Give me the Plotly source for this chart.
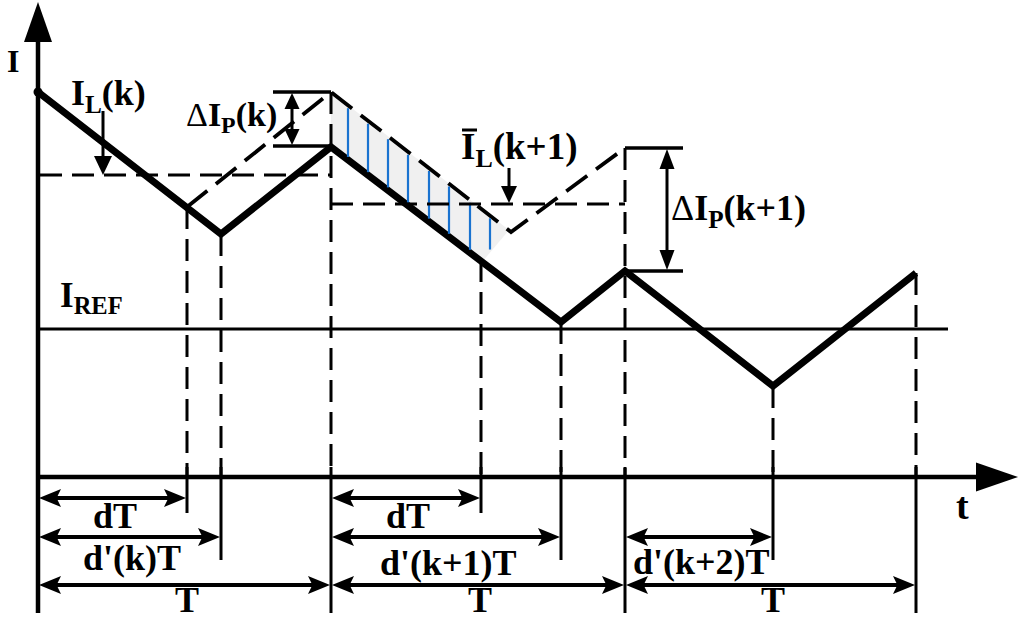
import plotly.graph_objects as go

W, H = 1024, 620

# ---- data (diagram coordinates: t to the right, I downward in image units) ----
origin_t = 38
t_axis_level = 477
i_axis_tip = 2
t_axis_tip = 1018

waveform_t = [38, 221, 331, 561, 625, 773, 916]
waveform_i = [92, 234, 147, 322, 271, 386, 273]

predicted_t = [187, 331, 511, 625]
predicted_i = [207, 92, 232, 148]

i_ref_level = 329
i_ref_end = 948
avg_k_level = 175
avg_k_span = [40, 331]
avg_k1_level = 204
avg_k1_span = [331, 625]

marker_t = [187, 221, 331, 481, 561, 625, 773, 916]
marker_top = [207, 234, 92, 260, 322, 148, 386, 273]
marker_bottom = [513, 560, 613, 513, 560, 613, 560, 613]

hatch_t = [348, 368, 388, 408, 429, 449, 470, 490]
hatch_poly_t = [331, 509, 482, 331]
hatch_poly_i = [92, 230, 262, 147]

dim_labels = ["dT", "d'(k)T", "T", "dT", "d'(k+1)T", "T", "d'(k+2)T", "T"]
dim_start = [38, 38, 38, 331, 331, 331, 625, 625]
dim_end = [187, 221, 331, 481, 561, 625, 773, 916]
dim_level = [498, 537, 585, 498, 537, 585, 537, 585]
dim_label_level = [516, 558, 600, 516, 563, 600, 562, 600]

delta_k = dict(top=92, bottom=146, x0=273, x1=331, arrow=292)
delta_k1 = dict(top=148, bottom=271, x0=625, x1=683, arrow=667)

FONT = "Liberation Serif"
shapes = []
annotations = []


def line(x0, y0, x1, y1, w=3.5, dash="solid", color="black"):
    shapes.append(dict(type="line", x0=x0, y0=y0, x1=x1, y1=y1, xref="x", yref="y",
                       line=dict(color=color, width=w, dash=dash)))


def head(tx, ty, ux, uy, L=22, Wd=18, notch=0.0):
    n = (ux * ux + uy * uy) ** 0.5
    ux, uy = ux / n, uy / n
    px, py = -uy, ux
    bx, by = tx - L * ux, ty - L * uy
    b1 = (bx + Wd / 2 * px, by + Wd / 2 * py)
    b2 = (bx - Wd / 2 * px, by - Wd / 2 * py)
    nt = (tx - L * (1 - notch) * ux, ty - L * (1 - notch) * uy)
    path = f"M{tx},{ty} L{b1[0]},{b1[1]} L{nt[0]},{nt[1]} L{b2[0]},{b2[1]} Z"
    shapes.append(dict(type="path", path=path, xref="x", yref="y",
                       fillcolor="black", line=dict(width=0)))


def text(x, y, s, size=30, xanchor="center"):
    annotations.append(dict(x=x, y=y, xref="x", yref="y", text=s, showarrow=False,
                            xanchor=xanchor, yanchor="middle",
                            font=dict(family=FONT, size=size, color="black")))


DASH = "22px,10px"

# hatched region (grey fill + blue lines)
path = "M" + " L".join(f"{a},{b}" for a, b in zip(hatch_poly_t, hatch_poly_i)) + " Z"
shapes.append(dict(type="path", path=path, xref="x", yref="y", fillcolor="#f0f0f0",
                   line=dict(width=0), layer="below"))


def interp(x, xa, ya, xb, yb):
    return ya + (x - xa) * (yb - ya) / (xb - xa)


for hx in hatch_t:
    top = interp(hx, hatch_poly_t[0], hatch_poly_i[0], hatch_poly_t[1], hatch_poly_i[1]) + 3
    bot = min(interp(hx, hatch_poly_t[3], hatch_poly_i[3], hatch_poly_t[2], hatch_poly_i[2]),
              interp(hx, hatch_poly_t[1], hatch_poly_i[1], hatch_poly_t[2], hatch_poly_i[2])) - 3
    line(hx, top, hx, bot, w=2.2, color="#1a73d0")

# axes
line(origin_t, 613, origin_t, i_axis_tip + 30, w=4.5)
head(origin_t, i_axis_tip, 0, -1, L=40, Wd=28)
line(origin_t, t_axis_level, t_axis_tip - 30, t_axis_level, w=4.5)
head(t_axis_tip, t_axis_level, 1, 0, L=42, Wd=29)

# I_REF
line(origin_t, i_ref_level, i_ref_end, i_ref_level, w=3)

# average dashed lines
line(avg_k_span[0], avg_k_level, avg_k_span[1], avg_k_level, dash=DASH, w=3)
line(avg_k1_span[0], avg_k1_level, avg_k1_span[1], avg_k1_level, dash=DASH, w=3)

# marker verticals
for mt, mtop, mbot in zip(marker_t, marker_top, marker_bottom):
    line(mt, mtop, mt, t_axis_level, dash=DASH, w=3)
    line(mt, 467, mt, mbot, w=3)

# delta brackets
for d in (delta_k, delta_k1):
    line(d["x0"], d["top"], d["x1"], d["top"], w=3.5)
    line(d["x0"], d["bottom"], d["x1"], d["bottom"], w=3.5)
    L = 16 if d is delta_k else 20
    line(d["arrow"], d["top"] + L, d["arrow"], d["bottom"] - L, w=3)
    head(d["arrow"], d["top"] + 1, 0, -1, L=L, Wd=15)
    head(d["arrow"], d["bottom"] - 1, 0, 1, L=L, Wd=15)

# small label arrows
line(103, 111, 103, 158, w=3)
head(103, 175, 0, 1, L=19, Wd=18)
line(509, 168, 509, 188, w=3)
head(509, 203, 0, 1, L=17, Wd=16)

# dimension arrows
for lab, a, b, yl, ly in zip(dim_labels, dim_start, dim_end, dim_level, dim_label_level):
    line(a + 15, yl, b - 15, yl, w=4)
    head(a + 1, yl, -1, 0, L=22, Wd=18, notch=0.2)
    head(b - 1, yl, 1, 0, L=22, Wd=18, notch=0.2)
    text((a + b) / 2 + 2, ly, f"<b>{lab}</b>", size=36)

# Ī overline
line(462, 130, 477, 130, w=3)

# labels
text(13, 61, "<b>I</b>", size=32)
text(962, 506, "<b>t</b>", size=38)
text(69, 95, "<b>I<sub>L</sub>(k)</b>", size=36, xanchor="left")
text(184, 117, "Δ<b>I<sub>P</sub>(k)</b>", size=34, xanchor="left")
text(459, 149, "<b>I<sub>L</sub>(k+1)</b>", size=37, xanchor="left")
text(669, 210, "Δ<b>I<sub>P</sub>(k+1)</b>", size=36, xanchor="left")
text(58, 297, "<b>I<sub>REF</sub></b>", size=35, xanchor="left")

fig = go.Figure()
fig.add_trace(go.Scatter(x=predicted_t, y=predicted_i, mode="lines",
                         line=dict(color="black", width=3.8, dash="26px,11px"), hoverinfo="skip"))
fig.add_trace(go.Scatter(x=waveform_t, y=waveform_i, mode="lines",
                         line=dict(color="black", width=7), hoverinfo="skip"))
fig.add_trace(go.Scatter(x=[waveform_t[0]], y=[waveform_i[0]], mode="markers",
                         marker=dict(color="black", size=9), hoverinfo="skip"))

fig.update_layout(
    width=W, height=H, margin=dict(l=0, r=0, t=0, b=0),
    paper_bgcolor="white", plot_bgcolor="white", showlegend=False,
    xaxis=dict(range=[0, W], visible=False, fixedrange=True),
    yaxis=dict(range=[H, 0], visible=False, fixedrange=True),
    shapes=shapes, annotations=annotations,
)
fig.write_html("out.html", config={"displayModeBar": False},
               post_script="document.body.style.margin='0';document.body.style.overflow='hidden';")
